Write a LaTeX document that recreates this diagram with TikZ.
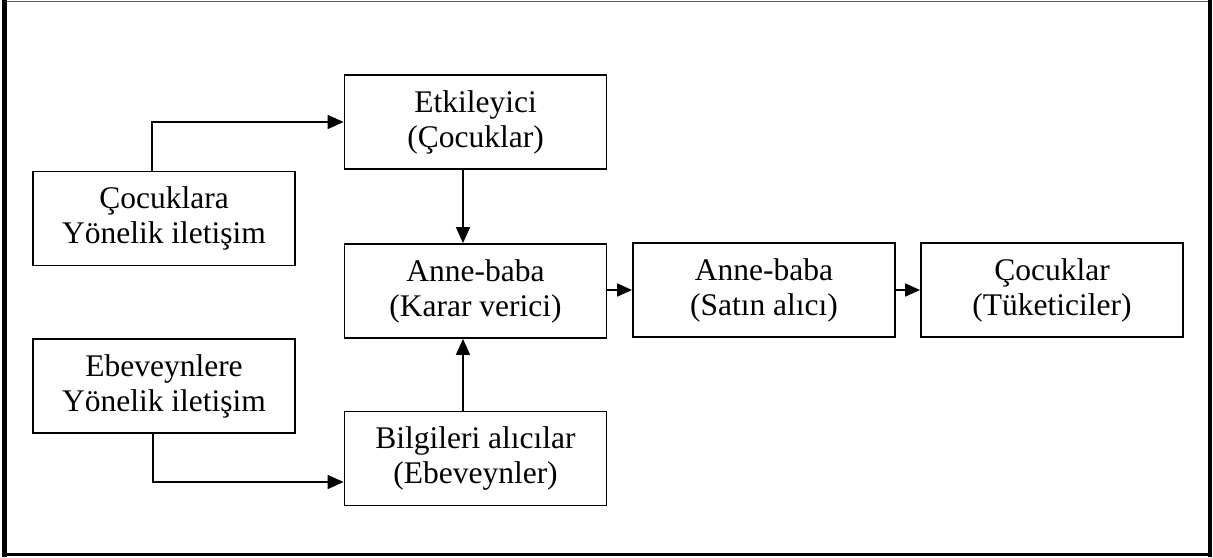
\documentclass[tikz,border=0pt]{standalone}
\usepackage{fontspec}
\setmainfont{Liberation Serif}
\usetikzlibrary{arrows.meta}
\begin{document}
\begin{tikzpicture}[x=1pt,y=-1pt,
  stagebox/.style={draw=black, line width=1.8pt, minimum width=262pt, minimum height=94pt,
    align=center, inner sep=0pt,
    font=\fontsize{31.5}{35}\selectfont},
  arr/.style={draw=black, line width=1.6pt, -{Triangle[length=16pt,width=14pt]}},
  arrs/.style={draw=black, line width=1.6pt, -{Triangle[length=15pt,width=13pt]}}]
  \useasboundingbox (0,0) rectangle (1213,557);
  % outer frame
  \draw[gray!70!black, line width=1.5pt] (2,1.5) -- (1212,1.5);
  \draw[black, line width=5pt] (4.5,0) -- (4.5,557);
  \draw[black, line width=4.5pt] (1210,0) -- (1210,557);
  \draw[black, line width=3.5pt] (2,554.5) -- (1212,554.5);
  % stages
  \node[stagebox] (E) at (475.5,122) {Etkileyici\\(Çocuklar)};
  \node[stagebox] (C) at (164,218.5) {Çocuklara\\Yönelik iletişim};
  \node[stagebox] (K) at (475.5,291) {Anne-baba\\(Karar verici)};
  \node[stagebox] (S) at (764,290) {Anne-baba\\(Satın alıcı)};
  \node[stagebox] (T) at (1052,290) {Çocuklar\\(Tüketiciler)};
  \node[stagebox] (B) at (164,386) {Ebeveynlere\\Yönelik iletişim};
  \node[stagebox] (L) at (475.5,458.5) {Bilgileri alıcılar\\(Ebeveynler)};
  % connectors
  \draw[arr] ([xshift=-12pt]C.north) |- (E.west);
  \draw[arr] ([xshift=-12.5pt]E.south) -- ([xshift=-12.5pt]K.north);
  \draw[arr] ([xshift=-12.5pt]L.north) -- ([xshift=-12.5pt]K.south);
  \draw[arr] ([xshift=-11pt]B.south) |- ([yshift=-23.5pt]L.west);
  \draw[arrs] (S.west -| K.east) -- (S.west);
  \draw[arrs] (S.east) -- (T.west);
\end{tikzpicture}
\end{document}
